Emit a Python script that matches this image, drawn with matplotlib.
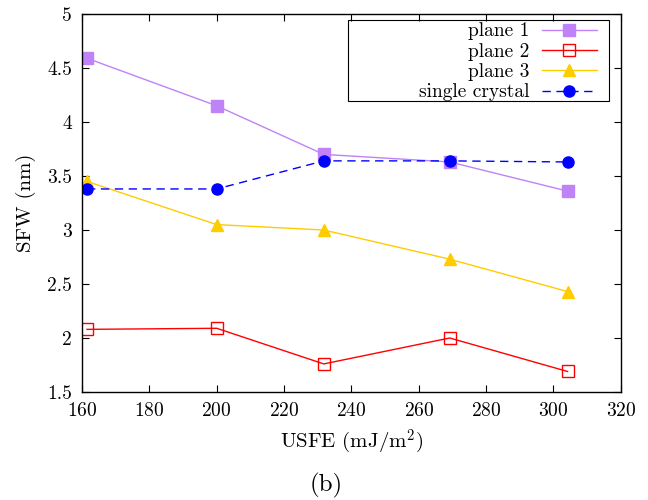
import matplotlib
matplotlib.use("Agg")
import matplotlib.pyplot as plt
from matplotlib.patches import Rectangle

plt.rcParams["font.family"] = "serif"
plt.rcParams["font.serif"] = ["cmr10"]
plt.rcParams["mathtext.fontset"] = "cm"
plt.rcParams["axes.formatter.use_mathtext"] = True
plt.rcParams["axes.unicode_minus"] = False

usfe = [161.5, 200.0, 231.8, 269.2, 304.2]
plane1 = [4.59, 4.15, 3.70, 3.63, 3.36]
plane2 = [2.08, 2.09, 1.76, 2.00, 1.69]
plane3 = [3.45, 3.05, 3.00, 2.73, 2.43]
single_crystal = [3.38, 3.38, 3.64, 3.64, 3.63]

xticks = [160, 180, 200, 220, 240, 260, 280, 300, 320]
yticks = [1.5, 2, 2.5, 3, 3.5, 4, 4.5, 5]

fig = plt.figure(figsize=(6.48, 5.0), dpi=100)
ax = fig.add_axes([0.1265, 0.216, 0.8315, 0.756])

ax.plot(usfe, plane1, color="#bf83f7", lw=1.0, marker="s", ms=8, label="plane 1")
ax.plot(usfe, plane2, color="#ff0000", lw=1.0, marker="s", ms=9, mfc="none",
        mew=1.0, label="plane 2")
ax.plot(usfe, plane3, color="#ffcc00", lw=1.0, marker="^", ms=8, label="plane 3")
ax.plot(usfe, single_crystal, color="#0000ff", lw=1.0, ls=(0, (6, 4)), marker="o",
        ms=8, label="single crystal")

ax.set_xlim(160, 320)
ax.set_ylim(1.5, 5)
ax.set_xticks(xticks)
ax.set_yticks(yticks)
ax.set_yticklabels([f"{v:g}" for v in yticks])
ax.tick_params(direction="in", top=True, right=True, length=5, width=0.8,
               labelsize=14, pad=7)
for s in ax.spines.values():
    s.set_linewidth(1.0)

ax.set_xlabel(r"USFE (mJ/m$^2$)", fontsize=15, labelpad=6)
ax.set_ylabel("SFW (nm)", fontsize=15, labelpad=8)

# key box drawn separately so it can be wider than the entries
ax.add_patch(Rectangle((0.4935, 0.770), 0.4845, 0.214, transform=ax.transAxes,
                       fill=False, ec="black", lw=0.8, zorder=5))
leg = ax.legend(loc="upper right", bbox_to_anchor=(0.956, 0.978), markerfirst=False,
                fontsize=14, frameon=False, handlelength=2.85, borderpad=0,
                labelspacing=0.12, handletextpad=0.65, borderaxespad=0)

fig.text(0.503, 0.03, "(b)", ha="center", va="center", fontsize=18)

fig.savefig("out.png", dpi=100)
